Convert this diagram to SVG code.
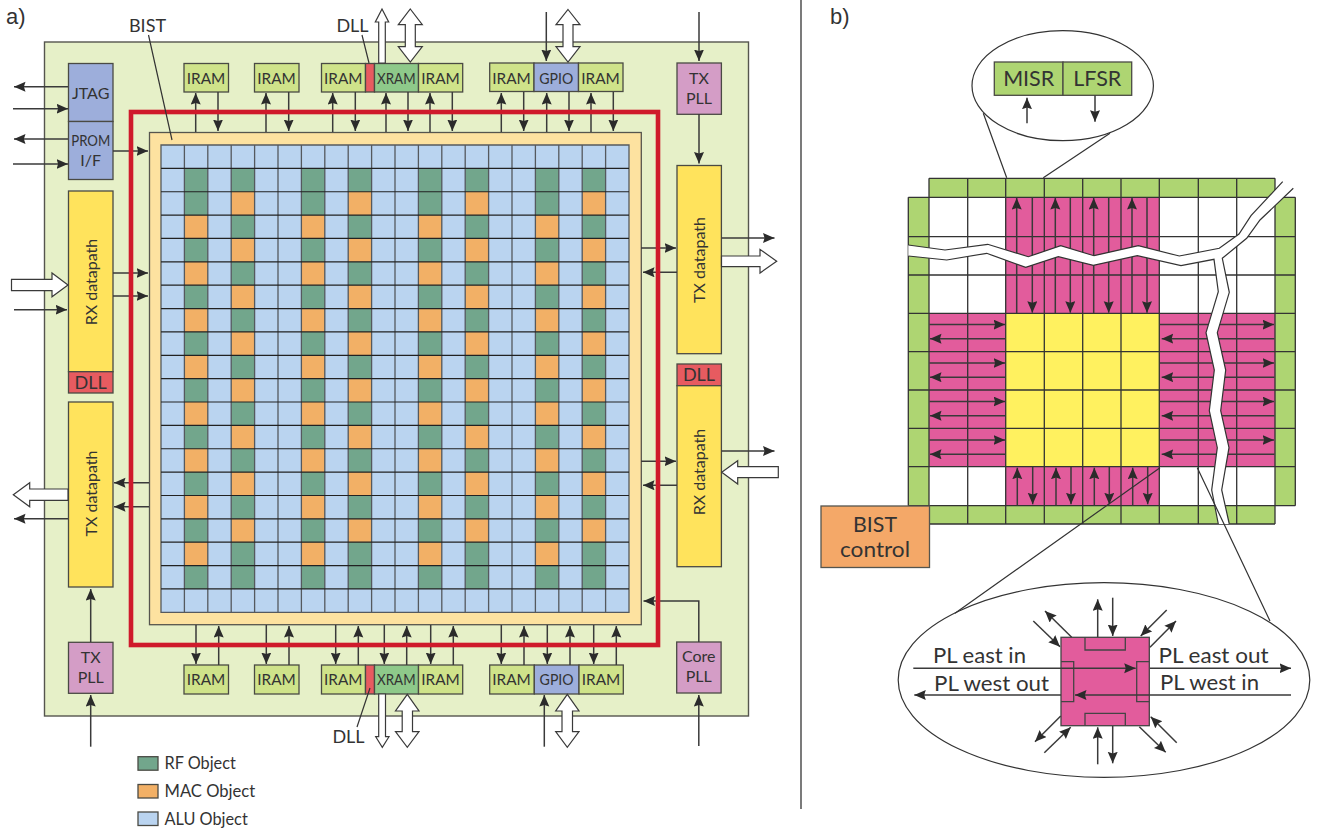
<svg xmlns="http://www.w3.org/2000/svg" xmlns:xlink="http://www.w3.org/1999/xlink" width="1318" height="829" viewBox="0 0 1318 829">
<style>
text{font-family:"Lato","Liberation Sans",sans-serif;fill:#333;font-size:16px;text-anchor:middle}
.l{text-anchor:start}
.f22{font-size:22px}
.f21{font-size:21px}
.f18{font-size:18px}
.b{stroke:#4a4a44;stroke-width:1.3}
.iram{fill:#cfe38a}.xram{fill:#8ec98a}.blue{fill:#9daedb}.dll{fill:#e75b60}.pll{fill:#d49dc6}.y{fill:#ffe35c}
.rf{fill:#72a68c}.mac{fill:#f2b066}.alu{fill:#bad4f0}
.g{fill:#aed572}.m{fill:#e25c9c}.ye{fill:#fff15f}
.a{fill:none;stroke:#3a3a3a;stroke-width:1.5;marker-end:url(#h)}
.t{fill:#fff;stroke:#3a3a3a;stroke-width:1.2}
.ln{fill:none;stroke:#333;stroke-width:1.2}
</style>
<defs>
<marker id="h" markerUnits="userSpaceOnUse" markerWidth="13" markerHeight="11" refX="11.5" refY="5" orient="auto"><path d="M0 0L11.5 5L0 10L1.6 5Z" fill="#2b2b2b"/></marker>
<g id="colA"><rect class="rf" y="168.37" width="23.4" height="420.57"/>
<rect class="mac" y="215.1" width="23.4" height="23.37"/><rect class="mac" y="261.83" width="23.4" height="23.37"/><rect class="mac" y="308.56" width="23.4" height="23.37"/><rect class="mac" y="355.29" width="23.4" height="23.37"/><rect class="mac" y="402.02" width="23.4" height="23.37"/><rect class="mac" y="448.75" width="23.4" height="23.37"/><rect class="mac" y="495.48" width="23.4" height="23.37"/><rect class="mac" y="542.21" width="23.4" height="23.37"/></g>
<g id="colB"><rect class="rf" y="168.37" width="23.4" height="420.57"/>
<rect class="mac" y="191.73" width="23.4" height="23.37"/><rect class="mac" y="238.46" width="23.4" height="23.37"/><rect class="mac" y="285.19" width="23.4" height="23.37"/><rect class="mac" y="331.92" width="23.4" height="23.37"/><rect class="mac" y="378.65" width="23.4" height="23.37"/><rect class="mac" y="425.38" width="23.4" height="23.37"/><rect class="mac" y="472.11" width="23.4" height="23.37"/><rect class="mac" y="518.84" width="23.4" height="23.37"/></g>
</defs>
<rect width="1318" height="829" fill="#fff"/>
<text class="l" x="6" y="24" style="font-family:'Liberation Sans',sans-serif;font-size:22px">a)</text>
<text class="l" x="830" y="24" style="font-family:'Liberation Sans',sans-serif;font-size:22px">b)</text>
<path d="M801 0V809" stroke="#333" stroke-width="1.3"/>

<g id="chip"><rect x="44.5" y="42" width="704" height="674" fill="#e6f0c8" stroke="#55554e" stroke-width="1.4"/></g>
<g id="bist-ring"><rect x="149.5" y="132.5" width="491.8" height="492.2" fill="#fde2a0" stroke="#55554e" stroke-width="1.3"/></g>
<g id="object-array">
<rect x="161" y="145" width="468" height="467.3" class="alu"/>
<use xlink:href="#colA" x="184.4"/><use xlink:href="#colB" x="231.2"/><use xlink:href="#colA" x="301.4"/><use xlink:href="#colB" x="348.2"/><use xlink:href="#colA" x="418.4"/><use xlink:href="#colB" x="465.2"/><use xlink:href="#colA" x="535.4"/><use xlink:href="#colB" x="582.2"/>
<path fill="none" stroke="#55595e" stroke-width="1.3" d="M161 145H629V612.3H161ZM184.4 145V612.3M207.8 145V612.3M231.2 145V612.3M254.6 145V612.3M278 145V612.3M301.4 145V612.3M324.8 145V612.3M348.2 145V612.3M371.6 145V612.3M395 145V612.3M418.4 145V612.3M441.8 145V612.3M465.2 145V612.3M488.6 145V612.3M512 145V612.3M535.4 145V612.3M558.8 145V612.3M582.2 145V612.3M605.6 145V612.3"/>
<path fill="none" stroke="#222" stroke-width="1.2" d="M161 168.37H629M161 191.73H629M161 215.1H629M161 238.46H629M161 261.83H629M161 285.19H629M161 308.56H629M161 331.92H629M161 355.29H629M161 378.65H629M161 402.02H629M161 425.38H629M161 448.75H629M161 472.11H629M161 495.48H629M161 518.84H629M161 542.21H629M161 565.57H629M161 588.94H629"/>
</g>

<g id="jtag"><rect class="blue b" x="68.5" y="63.5" width="44.5" height="58"/><text x="90.7" y="99" textLength="37.5" lengthAdjust="spacingAndGlyphs">JTAG</text></g>
<g id="prom"><rect class="blue b" x="68.5" y="121.5" width="44.5" height="58"/><text x="90.7" y="145.7" textLength="39" lengthAdjust="spacingAndGlyphs">PROM</text><text x="90.7" y="166">I/F</text></g>
<g id="rx-left"><rect class="y b" x="68.5" y="191" width="44.5" height="180.7"/><text transform="translate(96.5 282) rotate(-90)">RX datapath</text></g>
<g id="dll-left"><rect class="dll b" x="68.5" y="371.7" width="44.5" height="21.3"/><text class="f18" x="90.7" y="389">DLL</text></g>
<g id="tx-left"><rect class="y b" x="68.5" y="402" width="44.5" height="185"/><text transform="translate(96.5 493.5) rotate(-90)">TX datapath</text></g>
<g id="txpll-left"><rect class="pll b" x="68.5" y="642.3" width="44.5" height="51"/><text x="90.7" y="663.3">TX</text><text x="90.7" y="683.3">PLL</text></g>

<g id="iram-t1"><rect class="iram b" x="184" y="63.5" width="44.5" height="28.5"/><text x="206" y="84.3" textLength="38.5" lengthAdjust="spacingAndGlyphs">IRAM</text></g>
<g id="iram-t2"><rect class="iram b" x="254.5" y="63.5" width="44.5" height="28.5"/><text x="276.5" y="84.3" textLength="38.5" lengthAdjust="spacingAndGlyphs">IRAM</text></g>
<g id="iram-t3"><rect class="iram b" x="321.5" y="63.5" width="44" height="28.5"/><text x="343.3" y="84.3" textLength="38.5" lengthAdjust="spacingAndGlyphs">IRAM</text></g>
<g id="dll-t"><rect class="dll b" x="365.5" y="63.5" width="9" height="28.5"/></g>
<g id="xram-t"><rect class="xram b" x="374.5" y="63.5" width="44" height="28.5"/><text x="396.3" y="84.3" textLength="38.5" lengthAdjust="spacingAndGlyphs">XRAM</text></g>
<g id="iram-t4"><rect class="iram b" x="418.5" y="63.5" width="44.2" height="28.5"/><text x="440.5" y="84.3" textLength="38.5" lengthAdjust="spacingAndGlyphs">IRAM</text></g>
<g id="iram-t5"><rect class="iram b" x="489.7" y="63" width="44.3" height="28.5"/><text x="511.5" y="83.5" textLength="38.5" lengthAdjust="spacingAndGlyphs">IRAM</text></g>
<g id="gpio-t"><rect class="blue b" x="534" y="63" width="44.5" height="28.5"/><text x="556.3" y="84.3" textLength="34" lengthAdjust="spacingAndGlyphs">GPIO</text></g>
<g id="iram-t6"><rect class="iram b" x="578.5" y="63" width="44.5" height="28.5"/><text x="600.5" y="83.5" textLength="38.5" lengthAdjust="spacingAndGlyphs">IRAM</text></g>
<g id="txpll-right"><rect class="pll b" x="677" y="63" width="44.4" height="51.3"/><text x="699" y="83.5">TX</text><text x="699" y="103.5">PLL</text></g>
<g id="tx-right"><rect class="y b" x="677" y="165.5" width="44.4" height="188.2"/><text transform="translate(705 260) rotate(-90)">TX datapath</text></g>
<g id="dll-right"><rect class="dll b" x="677" y="364" width="44.4" height="21.7"/><text class="f18" x="699" y="381">DLL</text></g>
<g id="rx-right"><rect class="y b" x="677" y="385.7" width="44.4" height="181"/><text transform="translate(705 472) rotate(-90)">RX datapath</text></g>
<g id="corepll"><rect class="pll b" x="676.7" y="642" width="44.4" height="51"/><text x="698.8" y="662.3">Core</text><text x="698.8" y="682">PLL</text></g>

<g id="iram-b1"><rect class="iram b" x="184" y="665" width="44.5" height="29"/><text x="206" y="685" textLength="38.5" lengthAdjust="spacingAndGlyphs">IRAM</text></g>
<g id="iram-b2"><rect class="iram b" x="254.5" y="665" width="44.5" height="29"/><text x="276.5" y="685" textLength="38.5" lengthAdjust="spacingAndGlyphs">IRAM</text></g>
<g id="iram-b3"><rect class="iram b" x="321.5" y="665" width="44" height="29"/><text x="343.3" y="685" textLength="38.5" lengthAdjust="spacingAndGlyphs">IRAM</text></g>
<g id="dll-b"><rect class="dll b" x="365.5" y="665" width="9" height="29"/></g>
<g id="xram-b"><rect class="xram b" x="374.5" y="665" width="44" height="29"/><text x="396.3" y="685" textLength="38.5" lengthAdjust="spacingAndGlyphs">XRAM</text></g>
<g id="iram-b4"><rect class="iram b" x="418.5" y="665" width="44.2" height="29"/><text x="440.5" y="685" textLength="38.5" lengthAdjust="spacingAndGlyphs">IRAM</text></g>
<g id="iram-b5"><rect class="iram b" x="489.7" y="665" width="44.6" height="29"/><text x="511.5" y="685" textLength="38.5" lengthAdjust="spacingAndGlyphs">IRAM</text></g>
<g id="gpio-b"><rect class="blue b" x="534.3" y="665" width="44.7" height="29"/><text x="556.6" y="685" textLength="34" lengthAdjust="spacingAndGlyphs">GPIO</text></g>
<g id="iram-b6"><rect class="iram b" x="579" y="665" width="44.3" height="29"/><text x="601" y="685" textLength="38.5" lengthAdjust="spacingAndGlyphs">IRAM</text></g>

<g id="legend-rf"><rect class="rf b" x="138" y="756.7" width="20" height="13.5"/><text class="l" x="164.5" y="768.7" style="font-size:16.3px">RF Object</text></g>
<g id="legend-mac"><rect class="mac b" x="138" y="784.5" width="20" height="13.5"/><text class="l" x="164.5" y="796.5" style="font-size:16.6px">MAC Object</text></g>
<g id="legend-alu"><rect class="alu b" x="138" y="812" width="20" height="13.5"/><text class="l" x="164.5" y="824.5" style="font-size:16.3px">ALU Object</text></g>

<!-- panel b -->
<g id="mesh">
<rect class="g" x="929" y="178.3" width="346" height="19"/><rect class="g" x="929" y="505.7" width="346" height="18.3"/>
<rect class="g" x="908.3" y="197.3" width="20.7" height="308.4"/><rect class="g" x="1275" y="197.3" width="20.3" height="308.4"/>
<rect x="929" y="197.3" width="346" height="308.4" fill="#fff"/>
<rect class="m" x="1005.7" y="197.3" width="153.6" height="116"/><rect class="m" x="1005.7" y="466.7" width="153.6" height="39"/>
<rect class="m" x="929" y="313.3" width="76.7" height="153.4"/><rect class="m" x="1159.3" y="313.3" width="115.7" height="153.4"/>
<rect class="ye" x="1005.7" y="313.3" width="153.6" height="153.4"/>
<path fill="none" stroke="#333" stroke-width="1.3" d="M929 178.3H1275M929 524H1275M908.3 197.3H1295.3M908.3 236.7H1295.3M908.3 275H1295.3M908.3 313.3H1295.3M908.3 351.7H1295.3M908.3 390H1295.3M908.3 428.3H1295.3M908.3 466.7H1295.3M908.3 505.7H1295.3M908.3 197.3V505.7M1295.3 197.3V505.7M929 178.3V524M967.7 178.3V524M1005.7 178.3V524M1044.3 178.3V524M1082.7 178.3V524M1121 178.3V524M1159.3 178.3V524M1198.3 178.3V524M1236.7 178.3V524M1275 178.3V524"/>
</g>
<g id="bist-control"><rect x="821" y="506" width="108.5" height="61.5" fill="#f4a868" stroke="#55554e" stroke-width="1.3"/><text class="f21" x="875" y="531.5" textLength="44" lengthAdjust="spacingAndGlyphs">BIST</text><text class="f21" x="875" y="556.5" textLength="70" lengthAdjust="spacingAndGlyphs">control</text></g>
<g id="zoom-top"><ellipse cx="1062.7" cy="85.7" rx="90.7" ry="55" fill="#fff" stroke="#333" stroke-width="1.2"/></g>
<g id="misr"><rect class="g b" x="994.3" y="62" width="68.7" height="33.3"/><text x="1028.7" y="86" style="font-size:21.5px">MISR</text></g>
<g id="lfsr"><rect class="g b" x="1063" y="62" width="68.7" height="33.3"/><text x="1097.3" y="86" style="font-size:21.5px">LFSR</text></g>
<g id="zoom-bottom"><ellipse cx="1104" cy="680" rx="205.8" ry="97.3" fill="#fff" stroke="#333" stroke-width="1.2"/></g>
<g id="pl-cell">
<rect class="m" x="1061" y="637.3" width="88.3" height="88.4" stroke="#444" stroke-width="1.3"/>
<path fill="none" stroke="#444" stroke-width="1.3" d="M1085 637.3V650H1125.3V637.3M1085 725.7V713.3H1125.3V725.7M1061 661.7H1073.7V701.7H1061M1149.3 661.7H1136.7V701.7H1149.3"/>
<text class="l f22" x="933" y="662.7" textLength="93" lengthAdjust="spacingAndGlyphs">PL east in</text>
<text class="l f22" x="934" y="690.7" textLength="115" lengthAdjust="spacingAndGlyphs">PL west out</text>
<text class="l f22" x="1158.5" y="662.7" textLength="110" lengthAdjust="spacingAndGlyphs">PL east out</text>
<text class="l f22" x="1160" y="690" textLength="99" lengthAdjust="spacingAndGlyphs">PL west in</text>
</g>

<g id="connectors">
<path class="a" d="M68 86.7H14"/><path class="a" d="M13 108.7H68"/><path class="a" d="M68 139H14"/><path class="a" d="M13 164H68"/><path class="a" d="M113 151H148"/>
<path class="a" d="M113 273H148"/><path class="a" d="M113 296H148"/><path class="a" d="M14 309.7H67"/>
<path class="a" d="M149 482.7H114"/><path class="a" d="M149 506.7H114"/><path class="a" d="M68 518.7H14"/>
<path class="a" d="M90.7 642H90.7V589"/><path class="a" d="M90.7 746.7V695"/>
<path class="a" d="M195.7 132V93"/><path class="a" d="M218 92V131"/><path class="a" d="M266 132V93"/><path class="a" d="M288.7 92V131"/><path class="a" d="M332.7 132V93"/><path class="a" d="M355.3 92V131"/><path class="a" d="M386 132V93"/><path class="a" d="M408 92V131"/><path class="a" d="M430 132V93"/><path class="a" d="M452.3 92V131"/><path class="a" d="M501.3 132V93"/><path class="a" d="M523.7 92V131"/><path class="a" d="M546.7 132V93"/><path class="a" d="M569 92V131"/><path class="a" d="M591 132V93"/><path class="a" d="M613.3 92V131"/>
<path class="a" d="M196 625V664"/><path class="a" d="M218.7 665V626"/><path class="a" d="M266.3 625V664"/><path class="a" d="M289 665V626"/><path class="a" d="M335.7 625V664"/><path class="a" d="M358.3 665V626"/><path class="a" d="M384.3 625V664"/><path class="a" d="M406.7 665V626"/><path class="a" d="M430.7 625V664"/><path class="a" d="M453.3 665V626"/><path class="a" d="M501.3 625V664"/><path class="a" d="M524 665V626"/><path class="a" d="M547.3 625V664"/><path class="a" d="M570 665V626"/><path class="a" d="M593.7 625V664"/><path class="a" d="M616.3 665V626"/>
<path class="a" d="M699 12V61"/><path class="a" d="M699 114V163.5"/><path class="a" d="M546.3 12V61"/>
<path class="a" d="M641 248H676"/><path class="a" d="M677 272.3H643"/><path class="a" d="M721.5 238H774.5"/>
<path class="a" d="M641 461.3H676"/><path class="a" d="M677 485.3H643"/><path class="a" d="M721.5 451H774.5"/>
<path class="a" d="M698.8 642V601H643.5"/><path class="a" d="M698.8 746V695"/><path class="a" d="M544.3 746.7V695"/>
<polygon class="t" points="11.5,279.3 52,279.3 52,273 68,285 52,296.7 52,290.7 11.5,290.7"/>
<polygon class="t" points="68,489 29.7,489 29.7,482.7 13.3,494.7 29.7,506.7 29.7,500.3 68,500.3"/>
<polygon class="t" points="721.5,256 760,256 760,249.3 776.7,261.3 760,273 760,266.7 721.5,266.7"/>
<polygon class="t" points="778.3,466.7 737.7,466.7 737.7,460.7 721.7,472.3 737.7,484 737.7,477.7 778.3,477.7"/>
<polygon class="t" points="378.7,63 378.7,22 375.3,22 382,9 388.7,22 385.3,22 385.3,63"/>
<polygon class="t" points="410.3,9 422.3,24.7 415.3,24.7 415.3,46.7 422.3,46.7 410.3,62 398.3,46.7 405.3,46.7 405.3,24.7 398.3,24.7"/>
<polygon class="t" points="568,9.5 580,24.7 573,24.7 573,46.7 580,46.7 568,62 556,46.7 563,46.7 563,24.7 556,24.7"/>
<polygon class="t" points="378.7,694 378.7,736.7 375.7,736.7 382.3,747.3 389,736.7 385.5,736.7 385.5,694"/>
<polygon class="t" points="407.3,694.3 419,711 412.5,711 412.5,731.7 419,731.7 407.3,747.3 395.5,731.7 402.2,731.7 402.2,711 395.5,711"/>
<polygon class="t" points="567.3,694.3 579,711 572.5,711 572.5,731.7 579,731.7 567.3,747.3 555.7,731.7 562,731.7 562,711 555.7,711"/>
<path class="a" d="M1027 123.3V97.7"/><path class="a" d="M1095 95.3V121.7"/>
<path class="a" d="M1016.7 313V198"/><path class="a" d="M1055.3 313V198"/><path class="a" d="M1093.7 313V198"/><path class="a" d="M1132 313V198"/>
<path class="a" d="M1032.3 197.5V312.7"/><path class="a" d="M1070.3 197.5V312.7"/><path class="a" d="M1108.7 197.5V312.7"/><path class="a" d="M1147 197.5V312.7"/>
<path class="a" d="M1017.3 505.5V467.7"/><path class="a" d="M1056 505.5V467.7"/><path class="a" d="M1094.3 505.5V467.7"/><path class="a" d="M1132.7 505.5V467.7"/>
<path class="a" d="M1032.7 467V504.3"/><path class="a" d="M1071 467V504.3"/><path class="a" d="M1109.3 467V504.3"/><path class="a" d="M1147.7 467V504.3"/>
<path class="a" d="M929.5 324.6H1005"/><path class="a" d="M929.5 363H1005"/><path class="a" d="M929.5 401.5H1005"/><path class="a" d="M929.5 440H1005"/>
<path class="a" d="M1005.5 338.7H930"/><path class="a" d="M1005.5 377.2H930"/><path class="a" d="M1005.5 415.8H930"/><path class="a" d="M1005.5 454.3H930"/>
<path class="a" d="M1159.5 324.6H1274"/><path class="a" d="M1159.5 363H1274"/><path class="a" d="M1159.5 401.5H1274"/><path class="a" d="M1159.5 440H1274"/>
<path class="a" d="M1274.5 338.7H1161.7"/><path class="a" d="M1274.5 377.2H1161.7"/><path class="a" d="M1274.5 415.8H1161.7"/><path class="a" d="M1274.5 454.3H1161.7"/>
<path class="a" d="M913.3 668.3H1135.7"/><path class="a" d="M1150 668.3H1291"/><path class="a" d="M1291 695H1075"/><path class="a" d="M1061 695H914.3"/>
<path class="a" d="M1097.7 637V599.3"/><path class="a" d="M1112.7 597.7V636"/><path class="a" d="M1097.7 764.3V727.3"/><path class="a" d="M1112.7 726V763.3"/>
<path class="a" d="M1071.7 637.3L1045 611"/><path class="a" d="M1033.3 621L1060 646.7"/>
<path class="a" d="M1166.7 610L1140.7 636"/><path class="a" d="M1150 647.3L1176 621"/>
<path class="a" d="M1060.7 716L1035 741.7"/><path class="a" d="M1044.3 752.7L1070.7 727.3"/>
<path class="a" d="M1139.3 726.7L1165.7 752.3"/><path class="a" d="M1176.7 742.7L1150.7 716.7"/>
</g>

<g id="bist-region"><rect x="131" y="112" width="527" height="533" fill="none" stroke="#cf1a2b" stroke-width="4.6"/></g>

<g id="crack">
<polygon fill="#fff" points="908.3,245 945,250 987.7,244.3 1028.3,256.7 1060.7,245.7 1094,255.7 1138.3,245.7 1179.3,256 1219.3,248.3 1239,234 1251,215.7 1282.7,181.7 1293.3,188.3 1260,220 1246.7,238.3 1222.3,258.3 1229.3,292.3 1217.3,332.7 1225.7,370 1220.7,410.7 1229,447.7 1221.7,490 1229.3,524 1218.3,524 1211.7,490 1217.3,447.7 1209.3,410.7 1214.3,370 1206,332.7 1218.3,291.7 1214,259.3 1181,265.7 1137.3,255.7 1093.3,265.3 1058.3,256.7 1025.7,267.3 986.7,253.3 946.7,260 908.3,256"/>
<polyline class="ln" points="908.3,245 945,250 987.7,244.3 1028.3,256.7 1060.7,245.7 1094,255.7 1138.3,245.7 1179.3,256 1219.3,248.3 1239,234 1251,215.7 1282.7,181.7"/>
<polyline class="ln" points="1293.3,188.3 1260,220 1246.7,238.3 1222.3,258.3 1229.3,292.3 1217.3,332.7 1225.7,370 1220.7,410.7 1229,447.7 1221.7,490 1229.3,524"/>
<polyline class="ln" points="1218.3,524 1211.7,490 1217.3,447.7 1209.3,410.7 1214.3,370 1206,332.7 1218.3,291.7 1214,259.3 1181,265.7 1137.3,255.7 1093.3,265.3 1058.3,256.7 1025.7,267.3 986.7,253.3 946.7,260 908.3,256"/>
</g>
<g id="leaders">
<path class="ln" d="M983.3 113.3L1006.7 177.7M1110 133.3L1043.3 177.7M1160 467.7L955 613.3M1197.3 467.7L1270 621"/>
<path class="ln" d="M148.5 35L172 140M362 35L369 63M370 688L357 727"/>
</g>
<text class="f18" x="147.5" y="31.5">BIST</text>
<text class="f18" x="352.5" y="31.5">DLL</text>
<text class="f18" x="348.5" y="743">DLL</text>
</svg>
